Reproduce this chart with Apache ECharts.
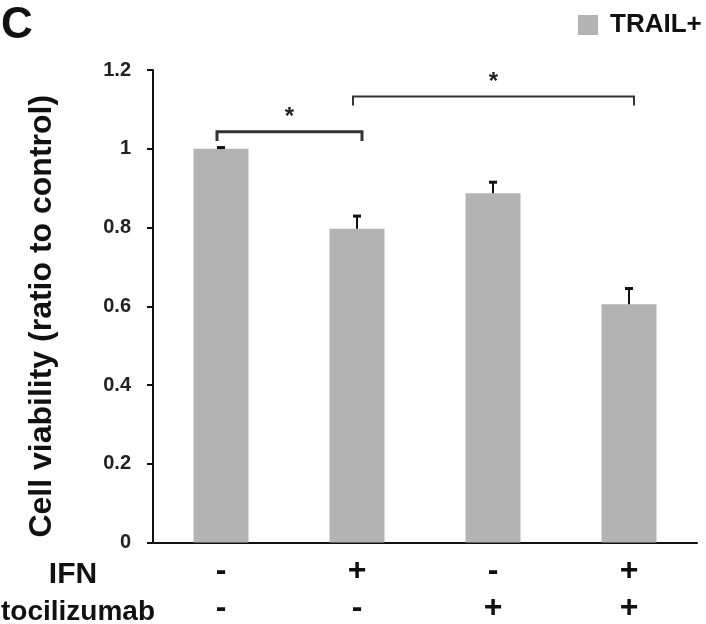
<!DOCTYPE html>
<html><head><meta charset="utf-8">
<script src="https://cdn.jsdelivr.net/npm/echarts@6/dist/echarts.min.js"></script>
<style>html,body{margin:0;padding:0;background:#fff}#c{width:706px;height:624px}</style>
</head><body><div id="c"></div>
<script>
const categories = ['c1', 'c2', 'c3', 'c4'];
const ifnRow = ['-', '+', '-', '+'];
const tociRow = ['-', '-', '+', '+'];
const values = [1.0, 0.797, 0.887, 0.605];
const errors = [0.003, 0.032, 0.028, 0.04];
const yTicks = [0, 0.2, 0.4, 0.6, 0.8, 1, 1.2];
// brackets: [fromIndex, toIndex, lineValue, tickBottomValue, starValue]
const brackets = [[0, 1, 1.043, 1.02, 1.08], [1, 3, 1.133, 1.11, 1.168]];

const FONT = 'Liberation Sans, Arial, sans-serif';
const chart = echarts.init(document.getElementById('c'), null, {renderer: 'canvas'});

const option = {
  animation: false,
  grid: {left: 153, right: 9, top: 70, bottom: 74},
  legend: {
    left: 573, top: 7, itemWidth: 20, itemHeight: 20, icon: 'rect',
    textStyle: {fontFamily: FONT, fontSize: 26, fontWeight: 'bold', color: '#111', padding: [0, 0, 0, 7]},
    data: ['TRAIL+']
  },
  xAxis: {
    type: 'category', data: categories,
    axisLine: {lineStyle: {color: '#111', width: 2}},
    axisTick: {show: false},
    axisLabel: {
      margin: 10,
      formatter: function (v, i) { return '{a|' + ifnRow[i] + '}\n{a|' + tociRow[i] + '}'; },
      rich: {a: {fontFamily: FONT, fontWeight: 'bold', fontSize: 32, color: '#111', lineHeight: 37}}
    }
  },
  yAxis: {
    type: 'value', min: 0, max: 1.2, interval: 0.2,
    name: 'Cell viability (ratio to control)', nameLocation: 'middle', nameGap: 95, nameRotate: 90,
    nameTextStyle: {fontFamily: FONT, fontWeight: 'bold', fontSize: 32, color: '#111', padding: [0, 20, 0, 0]},
    axisLine: {show: true, lineStyle: {color: '#111', width: 2}},
    axisTick: {show: true, length: 6, lineStyle: {color: '#111', width: 2}},
    splitLine: {show: false},
    axisLabel: {
      margin: 22, fontFamily: FONT, fontSize: 20, fontWeight: 'bold', color: '#222',
      formatter: function (v) { return yTicks.indexOf(+v.toFixed(1)) >= 0 ? String(+v.toFixed(1)) : ''; }
    }
  },
  graphic: [
    {type: 'text', left: 1, top: 4, style: {text: 'C', font: 'bold 44px ' + FONT, fill: '#111'}},
    {type: 'text', x: 73, y: 575, style: {text: 'IFN', font: 'bold 30px ' + FONT, fill: '#111', align: 'center', verticalAlign: 'middle'}},
    {type: 'text', x: 78, y: 612, style: {text: 'tocilizumab', font: 'bold 28px ' + FONT, fill: '#111', align: 'center', verticalAlign: 'middle'}}
  ],
  series: [
    {
      name: 'TRAIL+', type: 'bar', data: values, barWidth: 55,
      itemStyle: {color: '#b3b3b3'}, z: 2
    },
    {
      type: 'custom', name: 'err', silent: true, z: 3,
      data: values.map((v, i) => [i, v, errors[i]]),
      renderItem: function (params, api) {
        const top = api.coord([api.value(0), api.value(1) + api.value(2)]);
        const base = api.coord([api.value(0), api.value(1)]);
        return {type: 'group', children: [
          {type: 'line', shape: {x1: base[0], y1: base[1], x2: top[0], y2: top[1]}, style: {stroke: '#111', lineWidth: 2}},
          {type: 'line', shape: {x1: top[0] - 4, y1: top[1], x2: top[0] + 4, y2: top[1]}, style: {stroke: '#111', lineWidth: 3}}
        ]};
      }
    },
    {
      type: 'custom', name: 'brackets', silent: true, z: 3,
      data: brackets,
      renderItem: function (params, api) {
        const a = api.coord([api.value(0), api.value(2)]);
        const b = api.coord([api.value(1), api.value(2)]);
        const d = api.coord([api.value(0), api.value(3)]);
        const s = api.coord([(api.value(0) + api.value(1)) / 2, api.value(4)]);
        const lw = params.dataIndex === 0 ? 3 : 2;
        const xa = a[0] - 4, xb = b[0] + 5;
        return {type: 'group', children: [
          {type: 'polyline', shape: {points: [[xa, d[1]], [xa, a[1]], [xb, a[1]], [xb, d[1]]]}, style: {stroke: '#333', lineWidth: lw, fill: null}},
          {type: 'text', style: {text: '*', x: (xa + xb) / 2, y: s[1], font: 'bold 24px ' + FONT, fill: '#222', align: 'center', verticalAlign: 'middle'}}
        ]};
      }
    }
  ]
};
chart.setOption(option);
</script></body></html>
